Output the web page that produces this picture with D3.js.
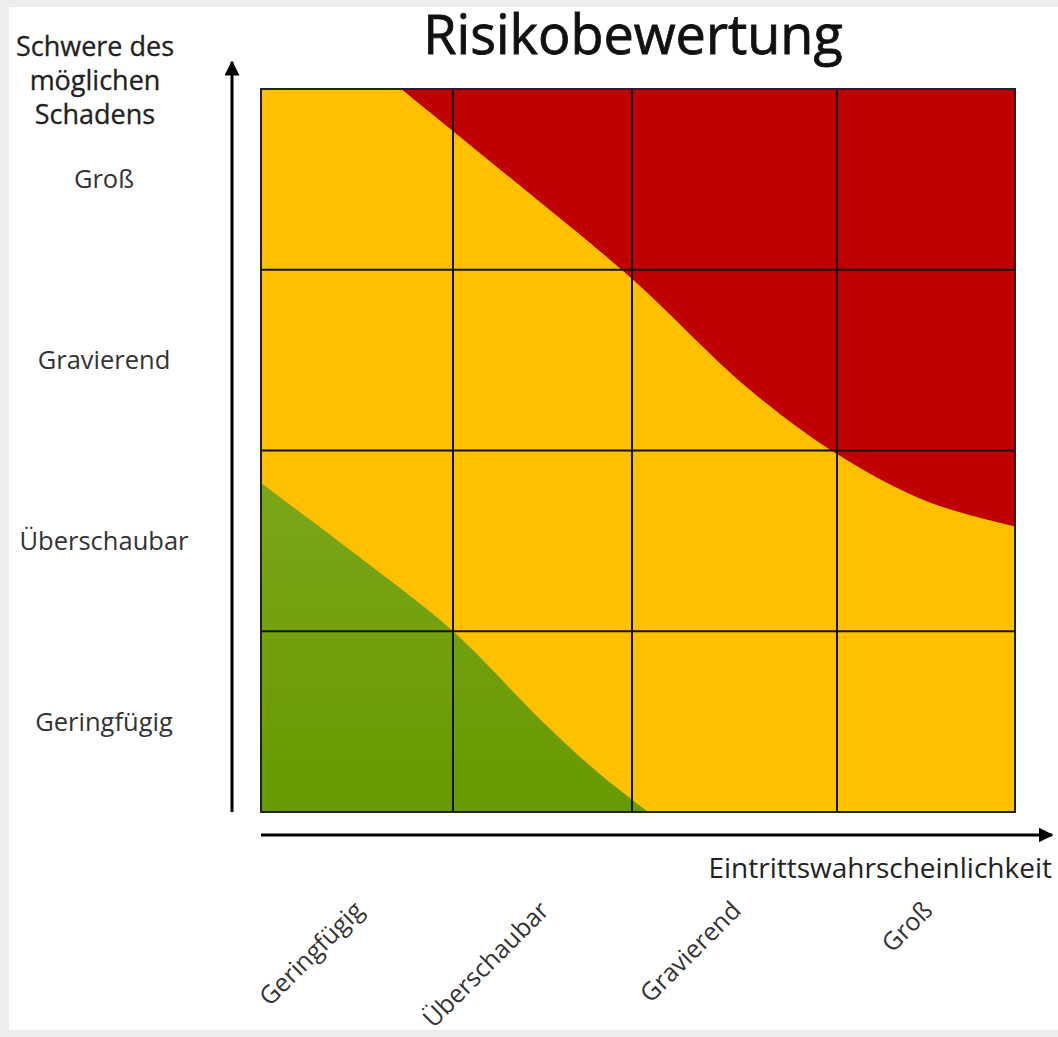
<!DOCTYPE html>
<html>
<head>
<meta charset="utf-8">
<script src="https://cdn.jsdelivr.net/npm/d3@7"></script>
<style>
  body { margin: 0; background: #eceeee; }
  text { font-family: "Open Sans", "Noto Sans", sans-serif; fill: #222; }
</style>
</head>
<body>
<div id="chart"></div>
<script>
// categories (bottom -> top for severity, left -> right for likelihood)
var severityLabels = ["Geringfügig", "Überschaubar", "Gravierend", "Groß"];
var likelihoodLabels = ["Geringfügig", "Überschaubar", "Gravierend", "Groß"];

// boundary of the red zone, [likelihood, severity] in cell units
var redBoundary = [[0.73, 4], [1.43, 3.42], [2, 2.95], [2.56, 2.35], [3, 1.98], [3.5, 1.72], [4, 1.58]];

// boundary of the green zone
var greenBoundary = [[0, 1.82], [0.5, 1.42], [1, 1.0], [1.5, 0.5], [1.82, 0.21], [2.08, 0]];

var titleText = "Risikobewertung";
var yTitle = ["Schwere des", "möglichen", "Schadens"];
var xTitle = "Eintrittswahrscheinlichkeit";

// svg params
var svgWidth = 1058;
var svgHeight = 1037;

var svg = d3.select("#chart")
    .append("svg")
    .attr("width", svgWidth)
    .attr("height", svgHeight);

// white sheet
svg.append("rect")
    .attr("x", 9).attr("y", 7)
    .attr("width", svgWidth - 9).attr("height", 1023)
    .attr("fill", "#fff");

var defs = svg.append("defs");

var grad = defs.append("linearGradient")
    .attr("id", "greenGrad")
    .attr("x1", 0).attr("y1", 0).attr("x2", 0).attr("y2", 1);
grad.append("stop").attr("offset", "0%").attr("stop-color", "#7ba619");
grad.append("stop").attr("offset", "100%").attr("stop-color", "#679900");

defs.append("marker")
    .attr("id", "arrow")
    .attr("viewBox", "0 0 10 10")
    .attr("refX", 9).attr("refY", 5)
    .attr("markerWidth", 5).attr("markerHeight", 5)
    .attr("markerUnits", "strokeWidth")
    .attr("orient", "auto")
    .append("path")
    .attr("d", "M0,0 L10,5 L0,10 Z")
    .attr("fill", "#000");

// scales (columns are a little uneven in the picture)
var xScale = d3.scaleLinear()
    .domain([0, 1, 2, 3, 4])
    .range([261, 453, 632, 837, 1015]);

var yScale = d3.scaleLinear()
    .domain([0, 4])
    .range([812, 89]);

var x0 = xScale(0), x4 = xScale(4), y0 = yScale(0), y4 = yScale(4);

defs.append("clipPath").attr("id", "gridClip")
    .append("rect")
    .attr("x", x0).attr("y", y4)
    .attr("width", x4 - x0).attr("height", y0 - y4);

var plot = svg.append("g").attr("clip-path", "url(#gridClip)");

/// yellow base
plot.append("rect")
    .attr("x", x0).attr("y", y4)
    .attr("width", x4 - x0).attr("height", y0 - y4)
    .attr("fill", "#ffc000");

var line = d3.line()
    .x(d => xScale(d[0]))
    .y(d => yScale(d[1]))
    .curve(d3.curveCatmullRom.alpha(0.5));

/// red zone
plot.append("path")
    .attr("d", line(redBoundary) + "L" + xScale(4) + "," + yScale(4) + "Z")
    .attr("fill", "#c00000");

/// green zone
plot.append("path")
    .attr("d", line(greenBoundary) + "L" + xScale(0) + "," + yScale(0) + "Z")
    .attr("fill", "url(#greenGrad)");

/// grid lines
var grid = svg.append("g")
    .attr("stroke", "#111")
    .attr("stroke-width", 2);

grid.selectAll(".vline")
    .data([1, 2, 3])
    .enter()
    .append("line")
    .attr("x1", d => xScale(d)).attr("x2", d => xScale(d))
    .attr("y1", y4).attr("y2", y0);

grid.selectAll(".hline")
    .data([1, 2, 3])
    .enter()
    .append("line")
    .attr("x1", x0).attr("x2", x4)
    .attr("y1", d => yScale(d)).attr("y2", d => yScale(d));

grid.append("rect")
    .attr("x", x0).attr("y", y4)
    .attr("width", x4 - x0).attr("height", y0 - y4)
    .attr("fill", "none")
    .attr("stroke", "#222");

/// axis arrows
svg.append("line")
    .attr("x1", x0 - 29).attr("x2", x0 - 29)
    .attr("y1", y0).attr("y2", 62)
    .attr("stroke", "#000")
    .attr("stroke-width", 3)
    .attr("marker-end", "url(#arrow)");

svg.append("line")
    .attr("x1", x0).attr("x2", 1052)
    .attr("y1", y0 + 23).attr("y2", y0 + 23)
    .attr("stroke", "#000")
    .attr("stroke-width", 3)
    .attr("marker-end", "url(#arrow)");

/// title
svg.append("text")
    .attr("x", 633)
    .attr("y", 54)
    .attr("text-anchor", "middle")
    .style("font-size", "54px")
    .style("fill", "#111")
    .style("stroke", "#111")
    .style("stroke-width", 0.8)
    .text(titleText);

/// y axis title
svg.append("g").selectAll("text")
    .data(yTitle)
    .enter()
    .append("text")
    .attr("x", 95)
    .attr("y", (d, i) => 56 + i * 34)
    .attr("text-anchor", "middle")
    .style("font-size", "27px")
    .style("stroke", "#222")
    .style("stroke-width", 0.3)
    .text(d => d);

/// y tick labels
var band = (yScale(0) - yScale(1));
svg.append("g").selectAll("text")
    .data(severityLabels)
    .enter()
    .append("text")
    .attr("x", 104)
    .attr("y", (d, i) => yScale(i) - band / 2)
    .attr("dy", "0.35em")
    .attr("text-anchor", "middle")
    .style("font-size", "25.5px")
    .style("fill", "#333")
    .text(d => d);

/// x axis title
svg.append("text")
    .attr("x", 1052)
    .attr("y", 878)
    .attr("text-anchor", "end")
    .style("font-size", "28px")
    .text(xTitle);

/// x tick labels, rotated
svg.append("g").selectAll("text")
    .data(likelihoodLabels)
    .enter()
    .append("text")
    .attr("transform", (d, i) => {
        var cx = (xScale(i) + xScale(i + 1)) / 2 + 8;
        return "translate(" + cx + ",912) rotate(-45)";
    })
    .attr("text-anchor", "end")
    .style("font-size", "25px")
    .style("fill", "#333")
    .text(d => d);
</script>
</body>
</html>
